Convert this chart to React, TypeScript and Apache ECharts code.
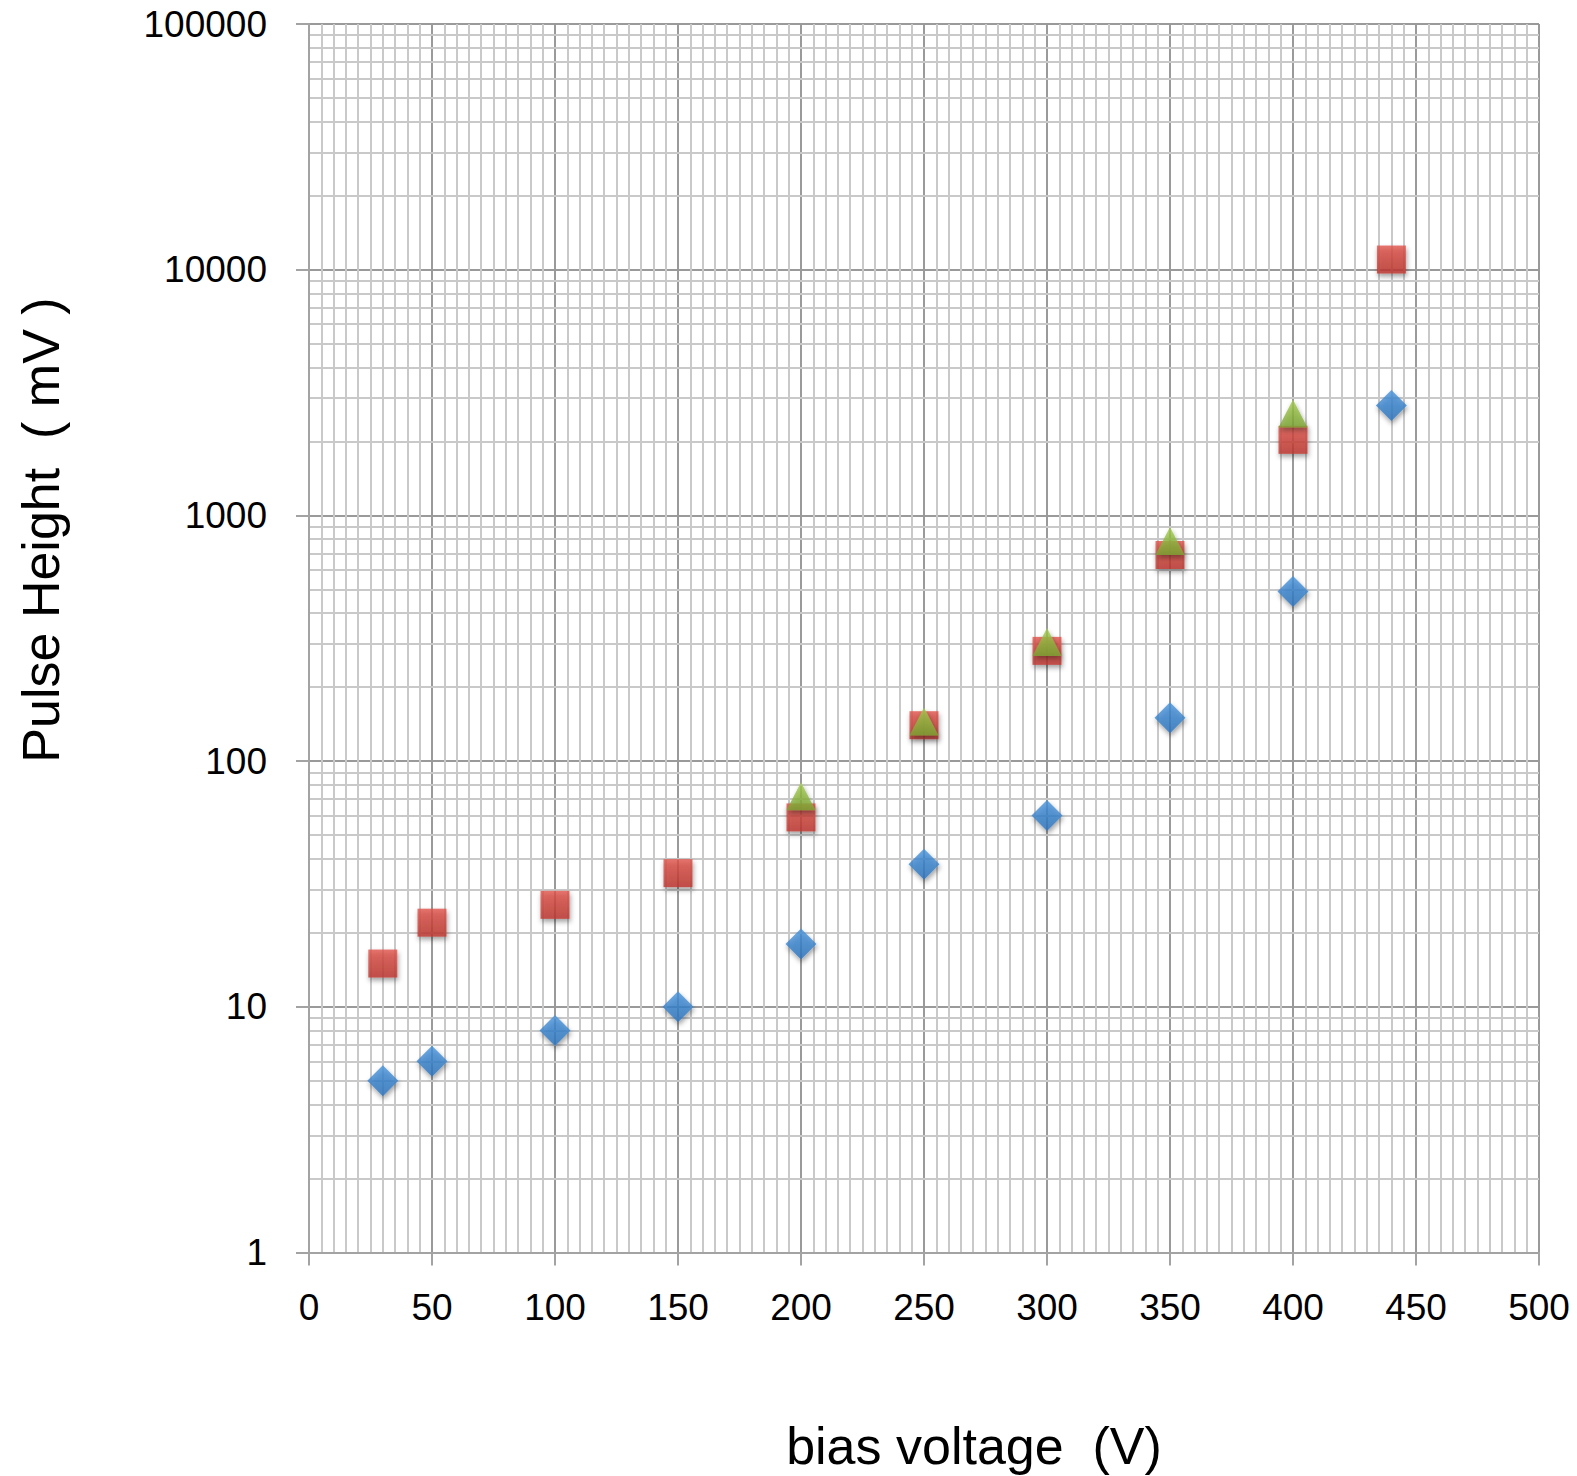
import React, { useEffect, useRef } from "react";
import * as echarts from "echarts";

// ---- data ----
const voltages = [30, 50, 100, 150, 200, 250, 300, 350, 400, 440];
const blueValues = [5, 6, 8, 10, 18, 38, 60, 150, 490, 2800];
const redValues = [15, 22, 26, 35, 59, 140, 281, 690, 2030, 11000];
const greenVoltages = [200, 250, 300, 350, 400];
const greenValues = [72, 145, 305, 787, 2600];

const xMin = 0;
const xMax = 500;
const xInterval = 50;
const yMin = 1;
const yMax = 100000;
const yDecades = [1, 10, 100, 1000, 10000];
const yMinorMultipliers = [2, 3, 4, 5, 6, 7, 8, 9];

const xTitle = "bias voltage  (V)";
const yTitle = "Pulse Height  ( mV )";

const FONT = "'Liberation Sans', Arial, sans-serif";

export default function App() {
  const ref = useRef<HTMLDivElement>(null);

  useEffect(() => {
    document.body.style.margin = "0";
    if (!ref.current) return;
    const chart = echarts.init(ref.current, undefined, { renderer: "svg" });

    const minorLines: { yAxis: number }[] = [];
    yDecades.forEach((d) =>
      yMinorMultipliers.forEach((m) => minorLines.push({ yAxis: d * m }))
    );

    const grad = (top: string, bottom: string) =>
      new echarts.graphic.LinearGradient(0, 0, 0, 1, [
        { offset: 0, color: top },
        { offset: 1, color: bottom },
      ]);

    const shadow = {
      shadowBlur: 5,
      shadowColor: "rgba(0,0,0,0.45)",
      shadowOffsetX: 1,
      shadowOffsetY: 3,
    };

    chart.setOption({
      animation: false,
      grid: { left: 309, top: 24, width: 1230, height: 1228.5, containLabel: false },
      xAxis: {
        type: "value",
        min: xMin,
        max: xMax,
        interval: xInterval,
        axisLine: { show: true, lineStyle: { color: "#a3a3a3", width: 2 } },
        axisTick: { show: true, length: 13, lineStyle: { color: "#a3a3a3", width: 2 } },
        axisLabel: {
          margin: 36,
          fontSize: 37,
          fontFamily: FONT,
          color: "#000",
        },
        splitLine: { show: true, lineStyle: { color: "#9a9a9a", width: 2 } },
        minorTick: { show: false, splitNumber: 10 },
        minorSplitLine: { show: true, lineStyle: { color: "#c9c9c9", width: 2 } },
      },
      yAxis: {
        type: "log",
        logBase: 10,
        min: yMin,
        max: yMax,
        splitNumber: 5,
        axisLine: { show: true, lineStyle: { color: "#a3a3a3", width: 2 } },
        axisTick: { show: true, length: 13, lineStyle: { color: "#a3a3a3", width: 2 } },
        axisLabel: {
          margin: 42,
          fontSize: 37,
          fontFamily: FONT,
          color: "#000",
          formatter: (v: number) => String(Math.round(v)),
        },
        splitLine: { show: true, lineStyle: { color: "#9a9a9a", width: 2 } },
      },
      graphic: [
        {
          type: "text",
          x: 974,
          y: 1446,
          style: {
            text: xTitle,
            fontSize: 52,
            fontFamily: FONT,
            fill: "#000",
            align: "center",
            verticalAlign: "middle",
          },
        },
        {
          type: "text",
          x: 41,
          y: 530,
          rotation: Math.PI / 2,
          style: {
            text: yTitle,
            fontSize: 52,
            fontFamily: FONT,
            fill: "#000",
            align: "center",
            verticalAlign: "middle",
          },
        },
      ],
      series: [
        {
          type: "scatter",
          name: "minor",
          data: [],
          z: 0,
          silent: true,
          markLine: {
            z: 0,
            silent: true,
            symbol: "none",
            animation: false,
            label: { show: false },
            lineStyle: { color: "#c9c9c9", width: 2, type: "solid" },
            emphasis: { disabled: true },
            data: minorLines,
          },
        },
        {
          type: "scatter",
          name: "A",
          z: 3,
          symbol: "diamond",
          symbolSize: [31, 31],
          itemStyle: { color: grad("#4894dc", "#2c74bd"), ...shadow },
          data: voltages.map((v, i) => [v, blueValues[i]]),
        },
        {
          type: "scatter",
          name: "B",
          z: 4,
          symbol: "rect",
          symbolSize: [29, 28],
          itemStyle: { color: grad("#e0544b", "#bd362f"), ...shadow },
          data: voltages.map((v, i) => [v, redValues[i]]),
        },
        {
          type: "scatter",
          name: "C",
          z: 5,
          symbol: "triangle",
          symbolSize: [29, 28],
          itemStyle: { color: grad("#a4cd4e", "#7ba332"), ...shadow },
          data: greenVoltages.map((v, i) => [v, greenValues[i]]),
        },
      ],
    });

    return () => chart.dispose();
  }, []);

  return <div ref={ref} style={{ width: 1577, height: 1476 }} />;
}
